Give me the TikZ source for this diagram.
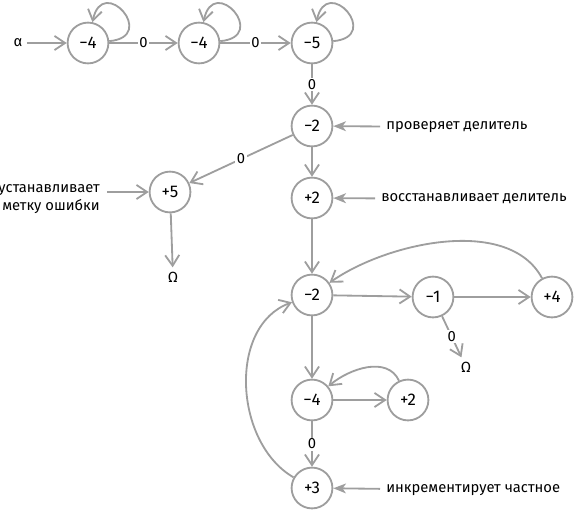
\documentclass[tikz,border=0pt]{standalone}
\usepackage{fontspec}
\setmainfont{Fira Sans}
\usetikzlibrary{arrows.meta,positioning}

\definecolor{linegray}{HTML}{9E9E9E}
\newcommand{\dgfont}{\fontsize{10.5}{13}\selectfont}
\newcommand{\stfont}{\fontsize{12}{14}\selectfont}

\begin{document}
\begin{tikzpicture}[x=0.025cm, y=-0.025cm,
  st/.style={circle, draw=linegray, line width=1.3pt, minimum size=1.02cm,
             inner sep=0pt, font=\stfont},
  txt/.style={inner sep=3pt, font=\dgfont},
  lbl/.style={fill=white, text=black, inner sep=1pt, font=\dgfont},
  edge/.style={line width=1.3pt, linegray, -{Straight Barb[length=7.5pt,width=10pt]}},
  note/.style={line width=1.3pt, linegray, shorten <=0.15cm,
               -{Stealth[length=9pt,width=7pt,inset=2.5pt]}}
]
  \useasboundingbox (0,0) rectangle (577,513);

  % states
  \node[txt] (alpha) at (18,43) {α};
  \node[st] (s1) at (88,43)  {−4};
  \node[st] (s2) at (199,43) {−4};
  \node[st] (s3) at (312,43) {−5};
  \node[st] (c1) at (312,126) {−2};
  \node[st] (e1) at (170,192) {+5};
  \node[txt] (om1) at (173,277) {Ω};
  \node[st] (r1) at (312,198) {+2};
  \node[st] (m1) at (312,295) {−2};
  \node[st] (m2) at (433,297) {−1};
  \node[st] (m3) at (552,297) {+4};
  \node[txt] (om2) at (466,367) {Ω};
  \node[st] (d1) at (312,400) {−4};
  \node[st] (d2) at (408,400) {+2};
  \node[st] (q1) at (312,488) {+3};

  % comments
  \node[txt, inner sep=0pt, anchor=west] (nChk) at (386,127) {проверяет делитель};
  \node[txt, inner sep=0pt, anchor=west] (nRst) at (381,199) {восстанавливает делитель};
  \node[txt, inner sep=0pt, anchor=north east, align=right] (nErr) at (100,184)
    {устанавливает\\метку ошибки};
  \coordinate (pErr) at (107,192);
  \node[txt, inner sep=0pt, anchor=west] (nInc) at (386,490) {инкрементирует частное};

  \draw[edge] (alpha) -- (s1);
  \draw[edge] (s1) -- node[lbl]{0} (s2);
  \draw[edge] (s2) -- node[lbl]{0} (s3);
  \draw[edge] (s1) to[out=5,in=78,looseness=5] (s1);
  \draw[edge] (s2) to[out=5,in=78,looseness=5] (s2);
  \draw[edge] (s3) to[out=5,in=78,looseness=5] (s3);
  \draw[edge] (s3) -- node[lbl]{0} (c1);
  \draw[edge] (c1) -- node[lbl]{0} (e1);
  \draw[edge] (c1) -- (r1);
  \draw[edge] (e1) -- (om1);
  \draw[edge] (r1) -- (m1);
  \draw[edge] (m1) -- (m2);
  \draw[edge] (m2) -- (m3);
  \draw[edge] (m2) -- node[lbl]{0} (om2);
  \draw[edge] (m3) to[out=118,in=35,looseness=0.85] (m1);
  \draw[edge] (m1) -- (d1);
  \draw[edge] (d1) -- (d2);
  \draw[edge] (d2) to[out=115,in=40] (d1);
  \draw[edge] (d1) -- node[lbl]{0} (q1);
  \draw[edge] (q1) to[out=150,in=200] (m1);

  \draw[note] (nChk) -- (c1);
  \draw[note] (nRst) -- (r1);
  \draw[note] (nInc) -- (q1);
  \draw[edge] (pErr) -- (e1);
\end{tikzpicture}
\end{document}
